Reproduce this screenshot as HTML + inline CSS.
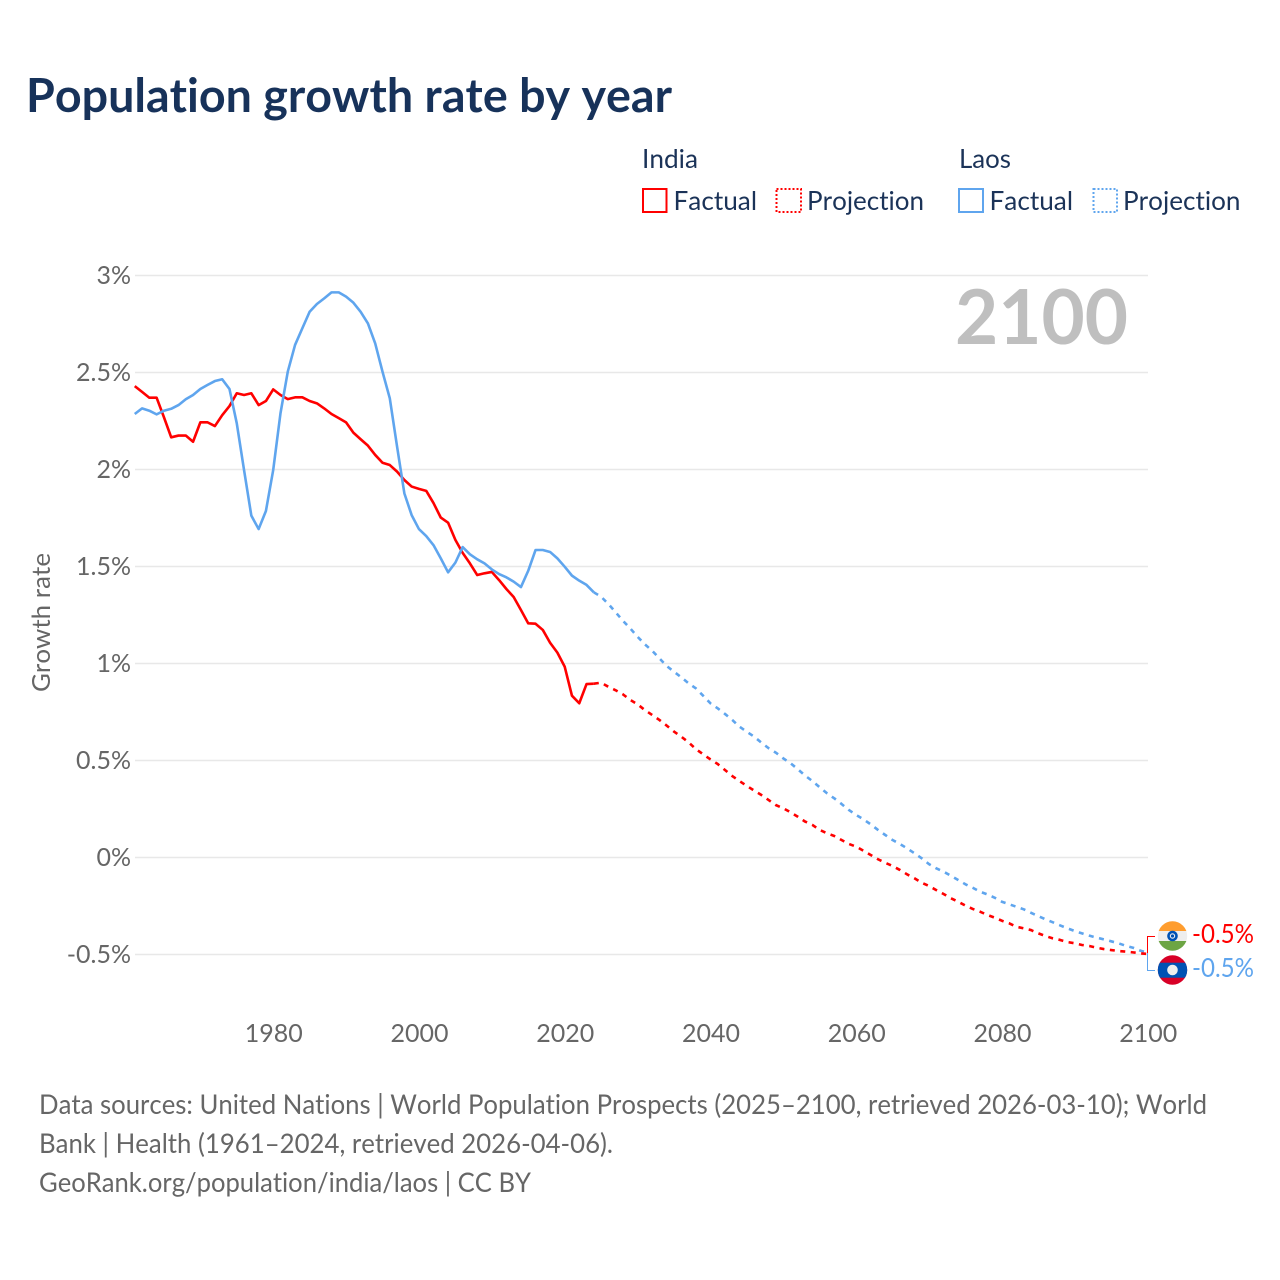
<!DOCTYPE html>
<html lang="en">
<head>
<meta charset="utf-8">
<title>Population growth rate by year</title>
<style>
html,body{margin:0;padding:0;background:#fff;width:1280px;height:1280px;overflow:hidden}
svg{display:block;font-family:"Lato","Carlito","Liberation Sans",sans-serif;font-variant-ligatures:none;font-kerning:none}
</style>
</head>
<body>
<svg id="chart" xmlns="http://www.w3.org/2000/svg" width="1280" height="1280" viewBox="0 0 1280 1280">
  <defs>
    <clipPath id="india-clip"><circle cx="1172.5" cy="936" r="14.7"/></clipPath>
    <clipPath id="laos-clip"><circle cx="1172.5" cy="970" r="14.7"/></clipPath>
  </defs>
  <rect width="1280" height="1280" fill="#fff"/>
  <text x="26" y="112" font-size="47" font-weight="700" fill="#17325a" textLength="646" lengthAdjust="spacingAndGlyphs">Population growth rate by year</text>

  <g font-size="26" fill="#1b3358">
    <text x="642" y="168" textLength="56" lengthAdjust="spacingAndGlyphs">India</text>
    <text x="959" y="168" textLength="52" lengthAdjust="spacingAndGlyphs">Laos</text>
    <rect x="643" y="189" width="23.5" height="23" fill="none" stroke="#ff0000" stroke-width="2"/>
    <text x="673.5" y="210" textLength="83.5" lengthAdjust="spacingAndGlyphs">Factual</text>
    <rect x="776.5" y="189" width="24.5" height="23" fill="none" stroke="#ff0000" stroke-width="2" stroke-dasharray="2 2"/>
    <text x="807" y="210" textLength="117" lengthAdjust="spacingAndGlyphs">Projection</text>
    <rect x="959" y="189" width="24" height="23" fill="none" stroke="#5fa5ee" stroke-width="2"/>
    <text x="989.5" y="210" textLength="83.5" lengthAdjust="spacingAndGlyphs">Factual</text>
    <rect x="1093.5" y="189" width="23.5" height="23" fill="none" stroke="#5fa5ee" stroke-width="2" stroke-dasharray="2 2"/>
    <text x="1123" y="210" textLength="117.5" lengthAdjust="spacingAndGlyphs">Projection</text>
  </g>

  <text transform="translate(50,692) rotate(-90)" font-size="25" fill="#666" textLength="139" lengthAdjust="spacingAndGlyphs">Growth rate</text>

  <g id="grid"></g>
  <g id="y-ticks"></g>
  <g id="x-ticks"></g>

  <text x="1128" y="344" text-anchor="end" font-size="76" font-weight="700" fill="#bfbfbf" textLength="173" lengthAdjust="spacingAndGlyphs">2100</text>

  <g id="series"></g>

  <g>
    <path d="M1147.5 953V936.5H1155" fill="none" stroke="#ff0000" stroke-width="1"/>
    <path d="M1147.5 953V970.5H1155" fill="none" stroke="#5fa5ee" stroke-width="1"/>
    <g clip-path="url(#india-clip)">
      <rect x="1157" y="921" width="31" height="31" fill="#eeeeee"/>
      <rect x="1157" y="921" width="31" height="10" fill="#ff9d2e"/>
      <rect x="1157" y="941" width="31" height="11" fill="#6da544"/>
      <circle cx="1172.5" cy="936" r="4" fill="none" stroke="#0052b4" stroke-width="2.6"/>
      <circle cx="1172.5" cy="936" r="1.6" fill="#0052b4"/>
    </g>
    <g clip-path="url(#laos-clip)">
      <rect x="1157" y="955" width="31" height="31" fill="#d80027"/>
      <rect x="1157" y="962.7" width="31" height="15" fill="#0052b4"/>
      <circle cx="1172.5" cy="970" r="5.3" fill="#eeeeee"/>
    </g>
    <text x="1192" y="943" font-size="26" fill="#ff0000" textLength="62" lengthAdjust="spacingAndGlyphs">-0.5%</text>
    <text x="1192" y="977" font-size="26" fill="#5fa5ee" textLength="62" lengthAdjust="spacingAndGlyphs">-0.5%</text>
  </g>

  <g font-size="27" fill="#666">
    <text x="39" y="1114" textLength="1168" lengthAdjust="spacingAndGlyphs">Data sources: United Nations | World Population Prospects (2025–2100, retrieved 2026-03-10); World</text>
    <text x="39" y="1153" textLength="574" lengthAdjust="spacingAndGlyphs">Bank | Health (1961–2024, retrieved 2026-04-06).</text>
    <text x="39" y="1192" textLength="492" lengthAdjust="spacingAndGlyphs">GeoRank.org/population/india/laos | CC BY</text>
  </g>
</svg>
<script>
const factualStartYear = 1961;
const projectionStartYear = 2025;
const yTickValues = [3, 2.5, 2, 1.5, 1, 0.5, 0, -0.5];
const yTickLabels = ['3%', '2.5%', '2%', '1.5%', '1%', '0.5%', '0%', '-0.5%'];
const xTickYears = [1980, 2000, 2020, 2040, 2060, 2080, 2100];
const indiaFactual = [2.43,2.40,2.37,2.37,2.27,2.166,2.175,2.175,2.143,2.243,2.243,2.224,2.28,2.327,2.393,2.384,2.393,2.332,2.353,2.413,2.384,2.363,2.372,2.372,2.353,2.341,2.315,2.286,2.265,2.243,2.19,2.156,2.123,2.075,2.035,2.023,1.989,1.946,1.912,1.9,1.89,1.827,1.752,1.726,1.637,1.57,1.516,1.456,1.465,1.472,1.43,1.384,1.343,1.276,1.207,1.205,1.173,1.107,1.056,0.984,0.834,0.795,0.894,0.896];
const laosFactual = [2.286,2.315,2.303,2.284,2.303,2.313,2.332,2.362,2.384,2.415,2.436,2.456,2.465,2.415,2.238,1.997,1.762,1.693,1.786,1.997,2.29,2.504,2.642,2.728,2.813,2.853,2.882,2.913,2.913,2.891,2.86,2.813,2.753,2.65,2.504,2.367,2.118,1.877,1.765,1.693,1.657,1.61,1.542,1.47,1.52,1.6,1.563,1.537,1.516,1.485,1.461,1.444,1.422,1.394,1.478,1.585,1.585,1.575,1.542,1.499,1.453,1.427,1.405,1.367];
const indiaProjection = [0.901,0.88,0.862,0.841,0.812,0.79,0.76,0.735,0.709,0.68,0.649,0.623,0.594,0.559,0.532,0.506,0.482,0.451,0.42,0.394,0.369,0.345,0.322,0.296,0.27,0.254,0.233,0.21,0.185,0.168,0.142,0.125,0.111,0.09,0.07,0.056,0.035,0.013,-0.009,-0.027,-0.044,-0.064,-0.087,-0.107,-0.13,-0.147,-0.168,-0.188,-0.21,-0.228,-0.248,-0.265,-0.279,-0.296,-0.31,-0.326,-0.339,-0.357,-0.365,-0.374,-0.391,-0.405,-0.417,-0.425,-0.436,-0.442,-0.451,-0.456,-0.465,-0.472,-0.477,-0.482,-0.485,-0.489,-0.494,-0.497];
const laosProjection = [1.344,1.307,1.264,1.22,1.181,1.138,1.099,1.066,1.027,0.987,0.958,0.929,0.898,0.872,0.834,0.795,0.769,0.74,0.709,0.674,0.648,0.623,0.592,0.563,0.54,0.511,0.486,0.455,0.422,0.394,0.362,0.331,0.305,0.276,0.245,0.219,0.197,0.171,0.142,0.116,0.09,0.07,0.047,0.022,-0.004,-0.034,-0.056,-0.073,-0.094,-0.116,-0.138,-0.156,-0.176,-0.19,-0.207,-0.228,-0.241,-0.254,-0.267,-0.285,-0.302,-0.319,-0.334,-0.35,-0.365,-0.379,-0.391,-0.403,-0.413,-0.422,-0.432,-0.442,-0.455,-0.465,-0.48,-0.491];

const SVG_NS = 'http://www.w3.org/2000/svg';
const RED = '#ff0000';
const BLUE = '#5fa5ee';
function xScale(year) { return 273.2 + (year - 1980) * (1147.6 - 273.2) / 120; }
function yScale(value) { return 857.5 - value * 194; }

function buildPoints(startYear, values) {
  return values.map(function (v, i) {
    return xScale(startYear + i).toFixed(2) + ',' + yScale(v).toFixed(2);
  });
}

const gridGroup = document.getElementById('grid');
const yTickGroup = document.getElementById('y-ticks');
const xTickGroup = document.getElementById('x-ticks');
const seriesGroup = document.getElementById('series');

yTickValues.forEach(function (value, i) {
  const line = document.createElementNS(SVG_NS, 'line');
  
  
  line.setAttribute('x1', 135);
  line.setAttribute('x2', 1148);
  line.setAttribute('y1', yScale(value));
  line.setAttribute('y2', yScale(value));
  line.setAttribute('stroke', '#e8e8e8');
  line.setAttribute('stroke-width', 1.6);
  gridGroup.appendChild(line);

  const label = document.createElementNS(SVG_NS, 'text');
  
  
  label.setAttribute('x', 131);
  label.setAttribute('y', yScale(value) + 8.5);
  label.setAttribute('text-anchor', 'end');
  label.setAttribute('font-size', 25);
  label.setAttribute('fill', '#666');
  label.textContent = yTickLabels[i];
  yTickGroup.appendChild(label);
});

xTickYears.forEach(function (year) {
  const label = document.createElementNS(SVG_NS, 'text');
  
  
  label.setAttribute('x', xScale(year) + 0.6);
  label.setAttribute('y', 1042);
  label.setAttribute('text-anchor', 'middle');
  label.setAttribute('font-size', 25);
  label.setAttribute('fill', '#666');
  label.textContent = String(year);
  xTickGroup.appendChild(label);
});

function drawLine(points, color, dashed, name) {
  const poly = document.createElementNS(SVG_NS, 'polyline');
  
  
  poly.setAttribute('points', points.join(' '));
  poly.setAttribute('fill', 'none');
  poly.setAttribute('stroke', color);
  poly.setAttribute('stroke-width', 2.6);
  poly.setAttribute('stroke-linejoin', 'round');
  if (dashed) poly.setAttribute('stroke-dasharray', '5 5.5');
  seriesGroup.appendChild(poly);
}

const laosFactualPts = buildPoints(factualStartYear, laosFactual);
const indiaFactualPts = buildPoints(factualStartYear, indiaFactual);
const laosProjectionPts = buildPoints(projectionStartYear, laosProjection);
const indiaProjectionPts = buildPoints(projectionStartYear, indiaProjection);

drawLine(indiaFactualPts, RED, false, 'india-factual-line');
drawLine(laosFactualPts, BLUE, false, 'laos-factual-line');
drawLine([laosFactualPts[laosFactualPts.length - 1]].concat(laosProjectionPts), BLUE, true, 'laos-projection-line');
drawLine([indiaFactualPts[indiaFactualPts.length - 1]].concat(indiaProjectionPts), RED, true, 'india-projection-line');
</script>
</body>
</html>
